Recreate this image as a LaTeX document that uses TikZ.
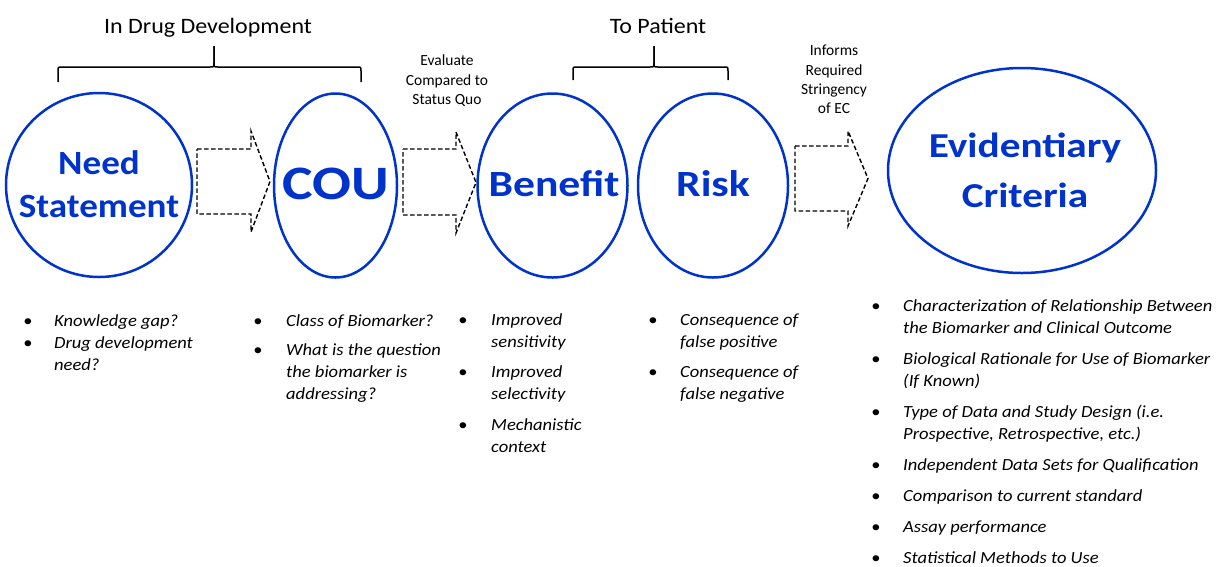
\documentclass[tikz,border=0pt]{standalone}
\usepackage{fontspec}
\setmainfont{Carlito}[FakeStretch=1.09]
\newfontfamily\plainf{Carlito}
\newfontfamily\widef{Carlito}[FakeStretch=1.18]
\newfontfamily\couf{Carlito}[FakeStretch=1.2]
\usetikzlibrary{shapes.geometric}
\definecolor{cblue}{RGB}{0,51,204}
\begin{document}
\begin{tikzpicture}[x=1pt,y=-1pt,
  bub/.style={ellipse, draw=cblue, line width=2.5pt, inner sep=0},
  big/.style={text=cblue, anchor=base, inner sep=0},
  blk/.style={draw=black, line width=1.4pt, dash pattern=on 4.5pt off 2.5pt},
  brc/.style={line width=1.5pt},
  ttl/.style={font=\fontsize{22}{26}\selectfont, anchor=base, inner sep=0},
  sml/.style={font=\plainf\fontsize{15.5}{19}\selectfont, anchor=base, inner sep=0},
  itm/.style={font=\fontsize{17}{22}\selectfont\itshape, anchor=base west, inner sep=0},
  dot/.style={font=\fontsize{17}{22}\selectfont, anchor=base, inner sep=0},
]
\useasboundingbox (0,0) rectangle (1220,566);

% ellipses
\node[bub, minimum width=186pt, minimum height=184pt] (need) at (99,185) {};
\node[bub, minimum width=123pt, minimum height=184pt] (cou) at (335.5,185.5) {};
\node[bub, minimum width=150pt, minimum height=184pt] (ben) at (552.5,185.5) {};
\node[bub, minimum width=150pt, minimum height=184pt] (risk) at (713,185.5) {};
\node[bub, minimum width=268pt, minimum height=205pt] (ec) at (1022,170.5) {};

% ellipse texts
\node[big, font=\bfseries\fontsize{34}{40}\selectfont] (t1a) at (99,174) {Need};
\node[big, font=\bfseries\fontsize{34}{40}\selectfont] (t1b) at (99,217) {Statement};
\node[big, font=\couf\bfseries\fontsize{48}{56}\selectfont] (t2) at (335.5,199) {COU};
\node[big, font=\widef\bfseries\fontsize{37}{44}\selectfont] (t3) at (554,196) {Benefit};
\node[big, font=\widef\bfseries\fontsize{37}{44}\selectfont] (t4) at (713,196) {Risk};
\node[big, font=\widef\bfseries\fontsize{35}{44}\selectfont] (t5a) at (1025,157) {Evidentiary};
\node[big, font=\widef\bfseries\fontsize{35}{44}\selectfont] (t5b) at (1025,207) {Criteria};

% block arrows
\draw[blk] (197,149) -- (251,149) -- (251,131) -- (270,181.5) -- (251,232) -- (251,214) -- (197,214) -- cycle;
\draw[blk] (403,149) -- (456,149) -- (456,132) -- (476,182.5) -- (456,233) -- (456,215) -- (403,215) -- cycle;
\draw[blk] (795,146) -- (848,146) -- (848,131) -- (868,178.5) -- (848,226) -- (848,211) -- (795,211) -- cycle;

% braces
\draw[brc] (58,82) -- (58,71) .. controls (58,67) .. (62,67) -- (210,67) .. controls (214,67) .. (214,63) -- (214,46);
\draw[brc] (214,46) -- (214,63) .. controls (214,67) .. (218,67) -- (357,67) .. controls (361,67) .. (361,71) -- (361,82);
\draw[brc] (573,80) -- (573,71) .. controls (573,67) .. (577,67) -- (650,67) .. controls (654,67) .. (654,63) -- (654,46);
\draw[brc] (654,46) -- (654,63) .. controls (654,67) .. (658,67) -- (724,67) .. controls (728,67) .. (728,71) -- (728,80);

% titles
\node[ttl] (h1) at (208,33) {In Drug Development};
\node[ttl] (h2) at (658,33) {To Patient};

% small labels
\node[sml] (e1) at (447,65) {Evaluate};
\node[sml] (e2) at (447,85) {Compared to};
\node[sml] (e3) at (447,104) {Status Quo};
\node[sml] (f1) at (834,55) {Informs};
\node[sml] (f2) at (834,75) {Required};
\node[sml] (f3) at (834,94) {Stringency};
\node[sml] (f4) at (834,113) {of EC};

% list 1
\node[dot] (b1a) at (28,326) {•};
\node[itm] (l1a) at (54,326) {Knowledge gap?};
\node[dot] (b1b) at (28,348) {•};
\node[itm] (l1b) at (54,348) {Drug development};
\node[itm] (l1c) at (54,370) {need?};

% list 2
\node[dot] (b2a) at (258,326) {•};
\node[itm] (l2a) at (286,326) {Class of Biomarker?};
\node[dot] (b2b) at (258,355) {•};
\node[itm] (l2b) at (286,355) {What is the question};
\node[itm] (l2c) at (286,377) {the biomarker is};
\node[itm] (l2d) at (286,399) {addressing?};

% list 3
\node[dot] (b3a) at (463,325) {•};
\node[itm] (l3a) at (491,325) {Improved};
\node[itm] (l3b) at (491,347) {sensitivity};
\node[dot] (b3b) at (463,377) {•};
\node[itm] (l3c) at (491,377) {Improved};
\node[itm] (l3d) at (491,399) {selectivity};
\node[dot] (b3c) at (463,430) {•};
\node[itm] (l3e) at (491,430) {Mechanistic};
\node[itm] (l3f) at (491,452) {context};

% list 4
\node[dot] (b4a) at (653,325) {•};
\node[itm] (l4a) at (680,325) {Consequence of};
\node[itm] (l4b) at (680,347) {false positive};
\node[dot] (b4b) at (653,377) {•};
\node[itm] (l4c) at (680,377) {Consequence of};
\node[itm] (l4d) at (680,399) {false negative};

% list 5
\node[dot] (b5a) at (876,311) {•};
\node[itm] (l5a) at (903,311) {Characterization of Relationship Between};
\node[itm] (l5b) at (903,333) {the Biomarker and Clinical Outcome};
\node[dot] (b5b) at (876,364) {•};
\node[itm] (l5c) at (903,364) {Biological Rationale for Use of Biomarker};
\node[itm] (l5d) at (903,386) {(If Known)};
\node[dot] (b5c) at (876,417) {•};
\node[itm] (l5e) at (903,417) {Type of Data and Study Design (i.e.};
\node[itm] (l5f) at (903,439) {Prospective, Retrospective, etc.)};
\node[dot] (b5d) at (876,470) {•};
\node[itm] (l5g) at (903,470) {Independent Data Sets for Qualification};
\node[dot] (b5e) at (876,501) {•};
\node[itm] (l5h) at (903,501) {Comparison to current standard};
\node[dot] (b5f) at (876,532) {•};
\node[itm] (l5i) at (903,532) {Assay performance};
\node[dot] (b5g) at (876,563) {•};
\node[itm] (l5j) at (903,563) {Statistical Methods to Use};
\end{tikzpicture}
\end{document}
